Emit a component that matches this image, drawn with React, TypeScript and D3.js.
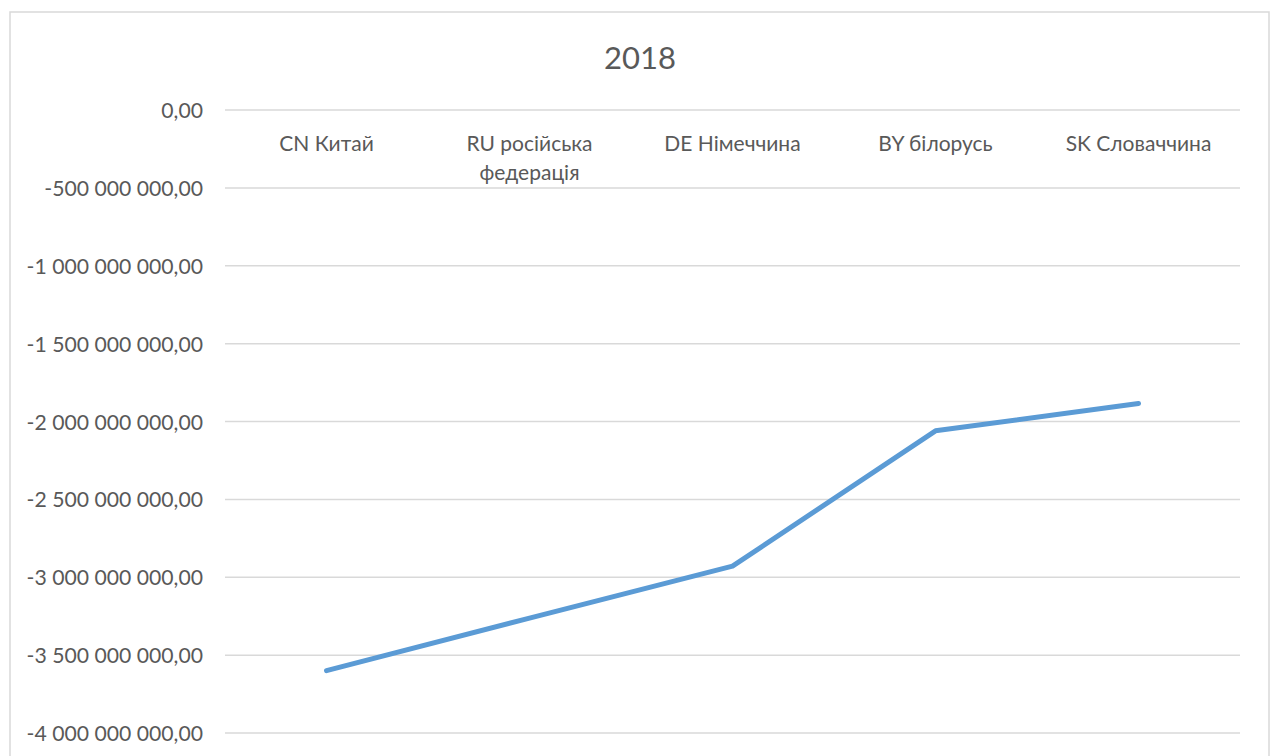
import React from "react";
import * as d3 from "d3";

const title = "2018";
const categories = ["CN Китай", "RU російська федерація", "DE Німеччина", "BY білорусь", "SK Словаччина"];
const categoryLines = [["CN Китай"], ["RU російська", "федерація"], ["DE Німеччина"], ["BY білорусь"], ["SK Словаччина"]];
const values = [-3600000000, -3262000000, -2929000000, -2060000000, -1884000000];
const yTicks = [0, -500000000, -1000000000, -1500000000, -2000000000, -2500000000, -3000000000, -3500000000, -4000000000];

const W = 1272;
const H = 756;
const FONT = "Lato, 'Open Sans', sans-serif";
const TEXT = "#595959";
const GRID = "#d9d9d9";
const LINE = "#5b9bd5";

const locale = d3.formatLocale({ decimal: ",", thousands: " ", grouping: [3], currency: ["", ""], minus: "-" });
const fmt = locale.format(",.2f");

export default function App() {
  const x = d3.scaleBand<string>().domain(categories).range([225, 1240]);
  const y = d3.scaleLinear().domain([-4000000000, 0]).range([733, 110]);
  const line = d3
    .line<number>()
    .x((_, i) => (x(categories[i]) as number) + x.bandwidth() / 2)
    .y((d) => y(d));

  return (
    <svg width={W} height={H} style={{ position: "absolute", left: 0, top: 0, background: "#fff" }}>
      <rect x={10} y={12} width={1259} height={800} fill="#fff" stroke={GRID} strokeWidth={1.5} />
      <text x={640} y={57} textAnchor="middle" dominantBaseline="central" fill={TEXT} fontFamily={FONT} fontSize={31}>
        {title}
      </text>
      {yTicks.map((t) => (
        <g key={t}>
          <line x1={225} x2={1240} y1={y(t)} y2={y(t)} stroke={GRID} strokeWidth={1.5} />
          <text x={203} y={y(t)} textAnchor="end" dominantBaseline="central" fill={TEXT} fontFamily={FONT} fontSize={21.2}>
            {fmt(t)}
          </text>
        </g>
      ))}
      {categories.map((c, i) => (
        <text key={c} textAnchor="middle" fill={TEXT} fontFamily={FONT} fontSize={21}>
          {categoryLines[i].map((l, j) => (
            <tspan key={j} x={(x(c) as number) + x.bandwidth() / 2} y={142 + j * 29} dominantBaseline="central">
              {l}
            </tspan>
          ))}
        </text>
      ))}
      <path d={line(values) || ""} fill="none" stroke={LINE} strokeWidth={5} strokeLinecap="round" strokeLinejoin="round" />
    </svg>
  );
}
